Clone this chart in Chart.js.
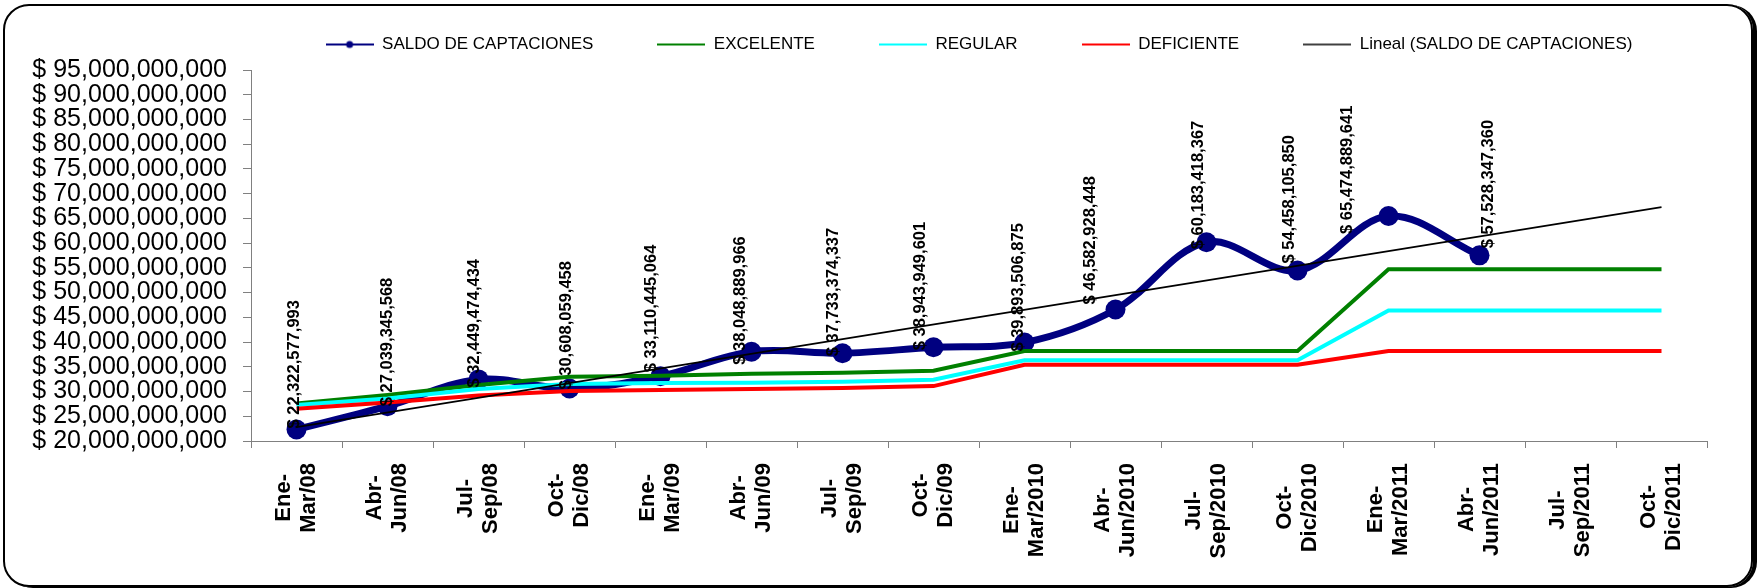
<!DOCTYPE html>
<html>
<head>
<meta charset="utf-8">
<title>Saldo de captaciones</title>
<script src="https://cdn.jsdelivr.net/npm/chart.js@4.4.1/dist/chart.umd.min.js"></script>
<style>
  html, body { margin: 0; padding: 0; background: #fff; }
  #wrap { position: relative; width: 1760px; height: 588px; overflow: hidden; background: #fff; }
  #frame { position: absolute; left: 3px; top: 4px; width: 1746px; height: 579px; border: 2px solid #000; border-radius: 26px; box-shadow: 4px 1px 0 #000; pointer-events: none; }
  #chart { position: absolute; left: 0; top: 0; }
</style>
</head>
<body>
<div id="wrap">
  <div id="frame"></div>
  <canvas id="chart" width="1760" height="588"></canvas>
</div>
<script>
const FONT = '"Liberation Sans", Arial, sans-serif';

// trimestres del eje X
const periods = [
  ['Ene-', 'Mar/08'], ['Abr-', 'Jun/08'], ['Jul-', 'Sep/08'], ['Oct-', 'Dic/08'],
  ['Ene-', 'Mar/09'], ['Abr-', 'Jun/09'], ['Jul-', 'Sep/09'], ['Oct-', 'Dic/09'],
  ['Ene-', 'Mar/2010'], ['Abr-', 'Jun/2010'], ['Jul-', 'Sep/2010'], ['Oct-', 'Dic/2010'],
  ['Ene-', 'Mar/2011'], ['Abr-', 'Jun/2011'], ['Jul-', 'Sep/2011'], ['Oct-', 'Dic/2011']
];

const saldo = [
  22322577993, 27039345568, 32449474434, 30608059458,
  33110445064, 38048889966, 37733374337, 38943949601,
  39893506875, 46582928448, 60183418367, 54458105850,
  65474889641, 57528347360, null, null
];

// metas (en miles de millones)
const excelente = [27.6, 29.3, 31.3, 33.0, 33.2, 33.6, 33.8, 34.2, 38.2, 38.2, 38.2, 38.2, 54.7, 54.7, 54.7, 54.7];
const regular = [27.3, 28.6, 30.5, 31.5, 31.7, 31.8, 32.0, 32.4, 36.3, 36.3, 36.3, 36.3, 46.4, 46.4, 46.4, 46.4];
const deficiente = [26.5, 27.8, 29.2, 30.1, 30.3, 30.5, 30.7, 31.1, 35.4, 35.4, 35.4, 35.4, 38.2, 38.2, 38.2, 38.2];

// linea de tendencia: extremos
const tendencia = [22.8, null, null, null, null, null, null, null, null, null, null, null, null, null, null, 67.3];

const yMin = 20e9, yMax = 95e9, yStep = 5e9;

// etiquetas movidas a mano en el original (px)
const labelNudge = [
  [-2, -1], [0, 0], [-4, 8], [-3, 1], [-9, -4], [-11, 13], [-9, 3],
  [-13, 3], [-6, 9], [-25, -5], [-8, 7], [-8, -7], [-41, 18], [9, -7]
];

const B = v => v == null ? null : v * 1e9;
const money = v => '$ ' + Number(v).toLocaleString('en-US');

function legendIcon(color, width, dot) {
  const c = document.createElement('canvas');
  c.width = 48; c.height = 12;
  const g = c.getContext('2d');
  g.strokeStyle = color; g.lineWidth = width;
  g.beginPath(); g.moveTo(0, 6); g.lineTo(48, 6); g.stroke();
  if (dot) {
    g.fillStyle = color;
    g.beginPath(); g.arc(24, 6, 3.5, 0, Math.PI * 2); g.fill();
  }
  return c;
}

const icons = [
  legendIcon('#000080', 2, true),
  legendIcon('#008000', 2, false),
  legendIcon('#00FFFF', 2, false),
  legendIcon('#FF0000', 2, false),
  legendIcon('#000000', 1.5, false)
];

const legendSpace = {
  id: 'legendSpace',
  beforeInit(chart) {
    const fit = chart.legend.fit;
    chart.legend.fit = function () {
      fit.call(this);
      this.height = 98;
    };
  }
};

const valueLabels = {
  id: 'valueLabels',
  afterDatasetsDraw(chart) {
    const ctx = chart.ctx;
    const meta = chart.getDatasetMeta(0);
    ctx.save();
    ctx.font = 'bold 16.5px ' + FONT;
    ctx.fillStyle = '#000';
    ctx.textAlign = 'left';
    ctx.textBaseline = 'middle';
    meta.data.forEach((pt, i) => {
      if (saldo[i] == null) return;
      const [dx, dy] = labelNudge[i] || [0, 0];
      ctx.save();
      ctx.translate(pt.x + dx, pt.y + dy);
      ctx.rotate(-Math.PI / 2);
      ctx.fillText(money(saldo[i]), 0, 0);
      ctx.restore();
    });
    ctx.restore();
  }
};

const periodLabels = {
  id: 'periodLabels',
  afterDraw(chart) {
    const ctx = chart.ctx;
    const x = chart.scales.x;
    ctx.save();
    ctx.font = 'bold 22px ' + FONT;
    ctx.fillStyle = '#000';
    ctx.textAlign = 'center';
    ctx.textBaseline = 'middle';
    periods.forEach((lines, i) => {
      const len = Math.max(...lines.map(l => ctx.measureText(l).width));
      ctx.save();
      ctx.translate(x.getPixelForValue(i), x.top + 22 + len / 2);
      ctx.rotate(-Math.PI / 2);
      lines.forEach((l, j) => ctx.fillText(l, 0, (j - (lines.length - 1) / 2) * 25));
      ctx.restore();
    });
    ctx.restore();
  }
};

Chart.defaults.font.family = FONT;
Chart.defaults.color = '#000';

new Chart(document.getElementById('chart'), {
  type: 'line',
  data: {
    labels: periods,
    datasets: [
      {
        label: 'SALDO DE CAPTACIONES',
        data: saldo,
        borderColor: '#000080',
        backgroundColor: '#000080',
        borderWidth: 7,
        pointRadius: 10,
        pointBorderWidth: 0,
        tension: 0.35,
        order: 5
      },
      {
        label: 'EXCELENTE',
        data: excelente.map(B),
        borderColor: '#008000',
        borderWidth: 4,
        pointRadius: 0,
        tension: 0,
        order: 4
      },
      {
        label: 'REGULAR',
        data: regular.map(B),
        borderColor: '#00FFFF',
        borderWidth: 4,
        pointRadius: 0,
        tension: 0,
        order: 3
      },
      {
        label: 'DEFICIENTE',
        data: deficiente.map(B),
        borderColor: '#FF0000',
        borderWidth: 4,
        pointRadius: 0,
        tension: 0,
        order: 2
      },
      {
        label: 'Lineal (SALDO DE CAPTACIONES)',
        data: tendencia.map(B),
        borderColor: '#000000',
        borderWidth: 1.75,
        pointRadius: 0,
        spanGaps: true,
        tension: 0,
        order: 1
      }
    ]
  },
  options: {
    responsive: false,
    animation: false,
    devicePixelRatio: 1,
    layout: { padding: { top: -28, right: 53, bottom: 0, left: 0 } },
    plugins: {
      tooltip: { enabled: false },
      legend: {
        position: 'top',
        fullSize: false,
        labels: {
          usePointStyle: true,
          pointStyleWidth: 48,
          padding: 64,
          color: '#000',
          font: { size: 17 },
          sort: (a, b) => a.datasetIndex - b.datasetIndex,
          generateLabels(chart) {
            const items = Chart.defaults.plugins.legend.labels.generateLabels(chart);
            items.forEach(it => { it.pointStyle = icons[it.datasetIndex]; });
            return items;
          }
        }
      }
    },
    scales: {
      x: {
        offset: true,
        afterFit(scale) { scale.height = 147; },
        ticks: { display: false },
        grid: { offset: true, drawOnChartArea: false, tickLength: 7, color: '#808080' },
        border: { color: '#808080' }
      },
      y: {
        min: yMin,
        max: yMax,
        afterFit(scale) { scale.width = 251; },
        ticks: {
          stepSize: yStep,
          autoSkip: false,
          padding: 16,
          color: '#000',
          font: { size: 25 },
          callback: v => money(v)
        },
        grid: { drawOnChartArea: false, tickLength: 8, color: '#808080' },
        border: { color: '#808080' }
      }
    }
  },
  plugins: [legendSpace, valueLabels, periodLabels]
});
</script>
</body>
</html>
